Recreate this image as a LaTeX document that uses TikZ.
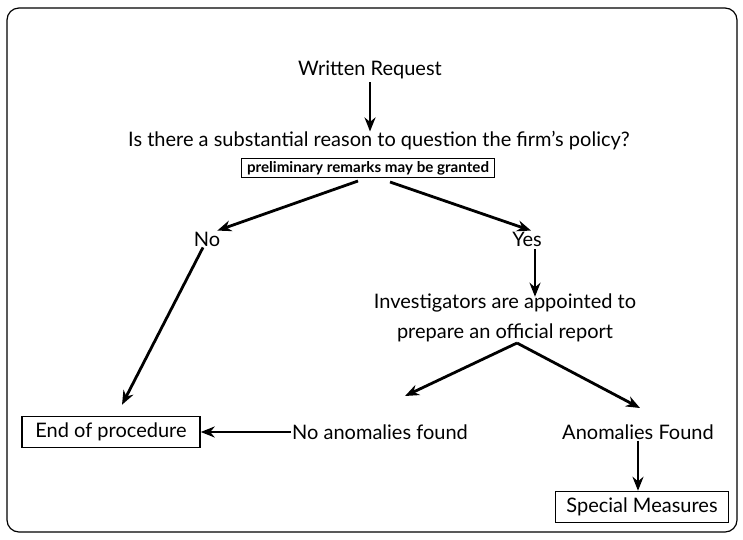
\documentclass[tikz,border=0pt]{standalone}
\usepackage{fontspec}
\usepackage{graphicx}
\setmainfont{Lato}
\usetikzlibrary{arrows.meta}
\tikzset{
  lbl/.style={inner sep=1pt, font=\fontsize{20}{30}\selectfont},
  boxed/.style={lbl, draw, line width=1.5pt, inner sep=3pt, minimum height=31pt},
  arr/.style={-{Stealth[length=14pt,width=11pt]}, line width=2.8pt},
}
\begin{document}
\begin{tikzpicture}[x=1pt,y=-1pt]
\useasboundingbox (0,0) rectangle (743,539);
\draw[line width=1.2pt, rounded corners=12pt] (7,8) rectangle (737,532);
\node[lbl] (wr) at (370,70) {Written Request};
\node[lbl] (q) at (379,141) {Is there a substantial reason to question the firm's policy?};
\node[draw, line width=1.2pt, inner sep=0pt, minimum width=253pt, minimum height=19pt] (pr) at (368,168) {\resizebox{242pt}{11pt}{\bfseries preliminary remarks may be granted}};
\node[lbl] (no) at (207,239) {No};
\node[lbl] (yes) at (527,239) {Yes};
\node[lbl, align=center] (inv) at (505,318) {Investigators are appointed to\\prepare an official report};
\node[boxed, minimum width=178pt] (end) at (111,432) {End of procedure};
\node[lbl] (naf) at (380,432) {No anomalies found};
\node[lbl] (af) at (638,432) {Anomalies Found};
\node[boxed, minimum width=173pt] (sm) at (642,507) {Special Measures};
\coordinate (invb) at (517,343);
\coordinate (pl) at (358,181);
\coordinate (prr) at (390,182);
\coordinate (nt) at (405,396);
\coordinate (at) at (640,408);
\draw[arr] (wr.south) ++(0,2) -- ([yshift=-1pt]wr.south |- q.north);
\draw[arr] (pl) -- ([xshift=-4pt]no.north east);
\draw[arr] (prr) -- ([xshift=4pt]yes.north);
\draw[arr] ([xshift=8pt,yshift=-2pt]yes.south) -- ([xshift=8pt,yshift=-4pt]yes.south |- inv.north);
\draw[arr] ([xshift=-4pt]no.south) -- ([xshift=11pt,yshift=11pt]end.north);
\draw[arr] (invb) -- (nt);
\draw[arr] (invb) -- (at);
\draw[arr] (naf.west) -- (end.east);
\draw[arr] (af.south) -- (sm.north -| af.south);
\end{tikzpicture}
\end{document}
